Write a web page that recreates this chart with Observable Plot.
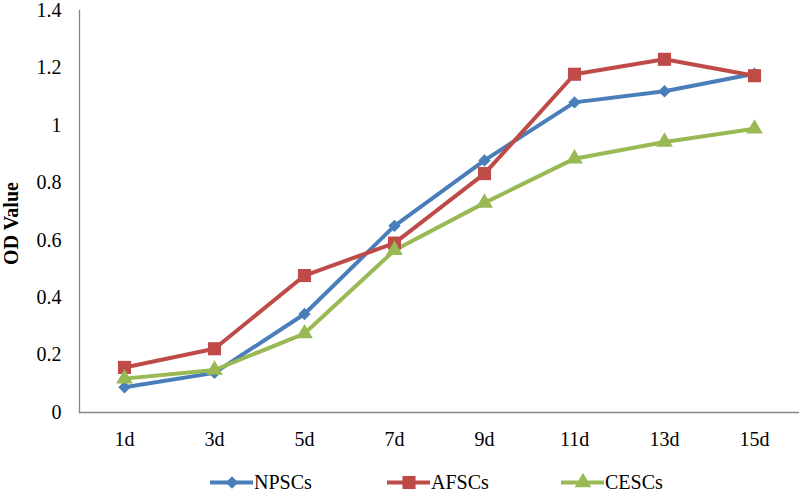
<!DOCTYPE html>
<html>
<head>
<meta charset="utf-8">
<script src="https://cdn.jsdelivr.net/npm/d3@7"></script>
<script src="https://cdn.jsdelivr.net/npm/@observablehq/plot@0.6"></script>
<style>
  html, body { margin: 0; background: #fff; overflow: hidden; }
  #wrap { width: 800px; font-family: "Liberation Serif", "Times New Roman", serif; }
  #legend { position: relative; width: 800px; height: 30px; }
  .item { position: absolute; top: 0; width: 120px; height: 30px; }
  .item svg { position: absolute; left: 0; top: 5px; max-width: none !important; }
  .item span { position: absolute; top: 10px; font-size: 20px; line-height: 20px; color: #000; white-space: nowrap; }
</style>
</head>
<body>
<div id="wrap"><div id="chart"></div><div id="legend"></div></div>
<script>
const days = ["1d", "3d", "5d", "7d", "9d", "11d", "13d", "15d"];
const seriesNames = ["NPSCs", "AFSCs", "CESCs"];
const npscs = [0.088, 0.138, 0.343, 0.65, 0.878, 1.08, 1.119, 1.18];
const afscs = [0.157, 0.222, 0.477, 0.59, 0.832, 1.178, 1.23, 1.173];
const cescs = [0.118, 0.148, 0.275, 0.565, 0.73, 0.884, 0.942, 0.988];
const yTicks = [0, 0.2, 0.4, 0.6, 0.8, 1, 1.2, 1.4];

const colors = {NPSCs: "#4a7ebb", AFSCs: "#be4b48", CESCs: "#98b954"};
const symbols = {NPSCs: "diamond2", AFSCs: "square", CESCs: "triangle"};
const radii = {NPSCs: 5.6, AFSCs: 7.4, CESCs: 6.2};

const valuesBy = {NPSCs: npscs, AFSCs: afscs, CESCs: cescs};
const rows = seriesNames.flatMap(s => days.map((d, i) => ({series: s, day: d, value: valuesBy[s][i]})));

const marks = [
  Plot.ruleY([0], {stroke: "#868686", strokeWidth: 1.3}),
  Plot.frame({anchor: "left", stroke: "#868686", strokeWidth: 1.3}),
  Plot.axisY({ticks: yTicks, tickSize: 0, tickPadding: 18, tickFormat: d => String(+d.toFixed(1)), label: null, fontSize: 20}),
  Plot.axisX({tickSize: 0, tickPadding: 19, label: null, fontSize: 20}),
  Plot.text(["OD Value"], {frameAnchor: "left", textAnchor: "middle", rotate: -90, dx: -68, dy: 12, fontWeight: "bold", fontSize: 20})
];
for (const s of seriesNames) {
  const data = rows.filter(r => r.series === s);
  marks.push(Plot.line(data, {x: "day", y: "value", stroke: colors[s], strokeWidth: 4}));
}
for (const s of seriesNames) {
  const data = rows.filter(r => r.series === s);
  marks.push(Plot.dot(data, {x: "day", y: "value", symbol: () => symbols[s], fill: colors[s], r: radii[s], stroke: "none"}));
}

const chart = Plot.plot({
  width: 800,
  height: 462,
  marginTop: 10,
  marginBottom: 50,
  marginLeft: 79,
  marginRight: 1,
  style: {fontFamily: "Liberation Serif, Times New Roman, serif", fontSize: "20px", color: "#000", background: "#fff"},
  x: {type: "point", domain: days, padding: 0.5},
  y: {domain: [0, 1.4]},
  symbol: {type: "identity"},
  marks
});
document.getElementById("chart").appendChild(chart);

// legend below the SVG
const legend = document.getElementById("legend");
const lpos = {NPSCs: 210, AFSCs: 387, CESCs: 561};
for (const s of seriesNames) {
  const item = document.createElement("div");
  item.className = "item";
  item.style.left = lpos[s] + "px";
  const sym = Plot.plot({
    width: 43, height: 30, margin: 0,
    x: {domain: [0, 1], axis: null}, y: {domain: [0, 1], axis: null},
    symbol: {type: "identity"},
    marks: [
      Plot.lineY([{x: 0, y: 0.5}, {x: 1, y: 0.5}], {x: "x", y: "y", stroke: colors[s], strokeWidth: 4}),
      Plot.dot([{x: 0.5, y: 0.5}], {x: "x", y: "y", symbol: () => symbols[s], fill: colors[s], r: radii[s]})
    ]
  });
  item.appendChild(sym);
  const label = document.createElement("span");
  label.style.left = "44px";
  label.textContent = s;
  item.appendChild(label);
  legend.appendChild(item);
}
</script>
</body>
</html>
